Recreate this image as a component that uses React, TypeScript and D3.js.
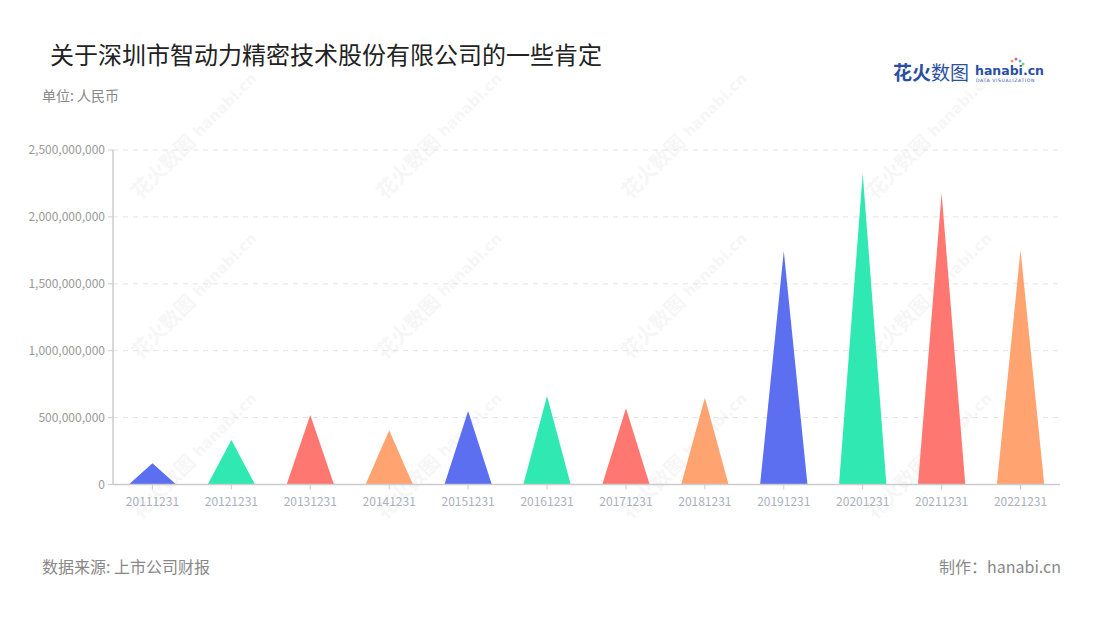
import React from "react";
import * as d3 from "d3";

const categories = ["20111231","20121231","20131231","20141231","20151231","20161231","20171231","20181231","20191231","20201231","20211231","20221231"];
const values = [158e6, 333e6, 519e6, 405e6, 549e6, 661e6, 569e6, 649e6, 1745e6, 2326e6, 2176e6, 1753e6];
const palette = ["#5b6ff0", "#2fe8b2", "#ff7770", "#ffa370"];
const yTicks = [0, 500e6, 1000e6, 1500e6, 2000e6, 2500e6];

const W = 1100, H = 620;
const M = { left: 113, right: 1060, top: 150, bottom: 484.5 };

export default function App() {
  const x = d3.scaleBand<string>().domain(categories).range([M.left, M.right]);
  const y = d3.scaleLinear().domain([0, 2500e6]).range([M.bottom, M.top]);
  const fmt = d3.format(",");
  const font = "'Noto Sans CJK SC', 'Noto Sans', sans-serif";
  const tw = x.bandwidth() * 0.6;
  const marks: [number, number][] = [];
  for (let r = 0; r < 3; r++) for (let c = 0; c < 4; c++) marks.push([140 + c * 245, 200 + r * 160]);
  return (
    <svg width={W} height={H} style={{ position: "absolute", left: 0, top: 0, fontFamily: font }}>
      <rect width={W} height={H} fill="#fff" />
      <text x={50} y={64} fontSize={24} fill="#222">关于深圳市智动力精密技术股份有限公司的一些肯定</text>
      <text x={42} y={101} fontSize={14} fill="#888">单位: 人民币</text>
      {/* logo */}
      <g>
        <text x={893} y={80} fontSize={19} fontWeight={700} fill="#2b4fa3">花火<tspan fontWeight={400}>数图</tspan></text>
        <text x={975} y={75} fontSize={12.5} fontWeight={700} fill="#2b4fa3" fontFamily="'DejaVu Sans', sans-serif">hanabi.cn</text>
        <text x={976} y={82} fontSize={4.6} fill="#2b4fa3" fontFamily="'DejaVu Sans', sans-serif" letterSpacing={0.6}>DATA VISUALIZATION</text>
        <circle cx={1012} cy={61} r={1.5} fill="#f4a24a" />
        <circle cx={1016} cy={59} r={1.5} fill="#e05a8a" />
        <circle cx={1020} cy={61} r={1.5} fill="#4bc4e8" />
        <circle cx={1023} cy={64} r={1.5} fill="#7ad36a" />
      </g>
      {/* watermarks */}
      {marks.map(([mx, my], i) => (
        <g key={i} transform={`translate(${mx},${my}) rotate(-45)`} opacity={0.05} fill="#666">
          <text x={0} y={0} fontSize={20} fontWeight={700}>花火数图</text>
          <text x={86} y={-2} fontSize={15} fontWeight={700} fontFamily="'DejaVu Sans', sans-serif">hanabi.cn</text>
        </g>
      ))}
      {/* gridlines */}
      {yTicks.map((t) => (
        <g key={t}>
          {t > 0 && <line x1={M.left} x2={M.right} y1={y(t)} y2={y(t)} stroke="#e3e3e3" strokeDasharray="5,5" />}
          <line x1={M.left - 5} x2={M.left} y1={y(t)} y2={y(t)} stroke="#ccc" />
          <text x={M.left - 8} y={y(t)} dy="0.35em" textAnchor="end" fontSize={12} fill="#999">{fmt(t)}</text>
        </g>
      ))}
      {/* triangles */}
      {categories.map((c, i) => {
        const cx = x(c)! + x.bandwidth() / 2;
        const p = d3.path();
        p.moveTo(cx - tw / 2, y(0));
        p.lineTo(cx, y(values[i]));
        p.lineTo(cx + tw / 2, y(0));
        p.closePath();
        return <path key={c} d={p.toString()} fill={palette[i % 4]} />;
      })}
      <line x1={M.left} x2={M.left} y1={M.top} y2={M.bottom} stroke="#ccc" strokeWidth={1.5} />
      <line x1={M.left} x2={M.right} y1={M.bottom} y2={M.bottom} stroke="#ccc" strokeWidth={1.5} />
      {categories.map((c) => {
        const cx = x(c)! + x.bandwidth() / 2;
        return (
          <g key={c}>
            <line x1={cx} x2={cx} y1={M.bottom} y2={M.bottom + 5} stroke="#ccc" />
            <text x={cx} y={M.bottom + 21} textAnchor="middle" fontSize={12} fill="#aab0bd">{c}</text>
          </g>
        );
      })}
      <text x={42} y={573} fontSize={16} fill="#888">数据来源: 上市公司财报</text>
      <text x={1061} y={573} fontSize={16} fill="#888" textAnchor="end">制作：hanabi.cn</text>
    </svg>
  );
}
